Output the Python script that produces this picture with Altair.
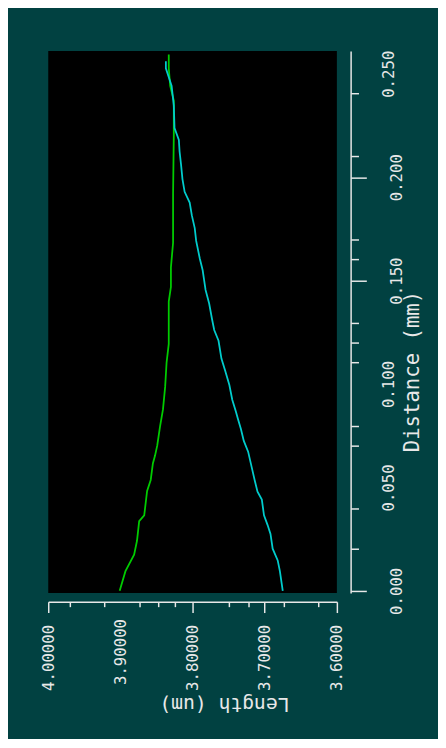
import altair as alt
import pandas as pd

# ---- data (Distance in mm, Length in um) ----
green_distance = [0.0, 0.0095, 0.0175, 0.0242, 0.0337, 0.0365, 0.0483, 0.0536, 0.0616, 0.0654,
                  0.0702, 0.0796, 0.0877, 0.0986, 0.1104, 0.1194, 0.1398, 0.1469, 0.1564, 0.1683,
                  0.1920, 0.2204, 0.2370, 0.2441, 0.2526, 0.2593]
green_length = [3.901, 3.893, 3.881, 3.877, 3.874, 3.867, 3.863, 3.858, 3.855, 3.852,
                3.849, 3.845, 3.841, 3.838, 3.836, 3.833, 3.833, 3.830, 3.830, 3.827,
                3.827, 3.826, 3.826, 3.831, 3.833, 3.833]

cyan_distance = [0.0, 0.0095, 0.0147, 0.0204, 0.0275, 0.0318, 0.0365, 0.0441, 0.0479, 0.0536,
                 0.0597, 0.0673, 0.0725, 0.0782, 0.0830, 0.0867, 0.0924, 0.0995, 0.1067, 0.1123,
                 0.1209, 0.1261, 0.1313, 0.1389, 0.1455, 0.1550, 0.1607, 0.1692, 0.1754, 0.1815,
                 0.1877, 0.1929, 0.1991, 0.2062, 0.2124, 0.2180, 0.2237, 0.2346, 0.2441, 0.2526,
                 0.2560]
cyan_length = [3.675, 3.679, 3.682, 3.689, 3.692, 3.696, 3.701, 3.704, 3.710, 3.714,
               3.718, 3.723, 3.729, 3.733, 3.737, 3.740, 3.745, 3.749, 3.755, 3.760,
               3.764, 3.770, 3.773, 3.777, 3.782, 3.786, 3.790, 3.795, 3.797, 3.801,
               3.804, 3.811, 3.814, 3.816, 3.818, 3.819, 3.825, 3.826, 3.829, 3.837,
               3.837]

series_names = ["Profile A", "Profile B"]
series_colors = ["#00cc00", "#00cccc"]

length_tick_values = [4.0, 3.970, 3.923, 3.874, 3.848, 3.825, 3.8, 3.749, 3.723, 3.7,
                      3.674, 3.626, 3.6]
length_label_values = [4.0, 3.9, 3.8, 3.7, 3.6]
length_long_ticks = [4.0, 3.8, 3.7, 3.6]

distance_tick_values = [0.0, 0.0204, 0.0398, 0.0702, 0.0796, 0.1104, 0.12, 0.1294, 0.15,
                        0.1602, 0.1697, 0.2, 0.21, 0.2408]
distance_label_values = [0.0, 0.05, 0.1, 0.15, 0.2, 0.25]
distance_long_ticks = [0.0, 0.15, 0.2]

# ---- table ----
rows = []
for d, l in zip(green_distance, green_length):
    rows.append({"series": series_names[0], "distance": d, "length": l})
for d, l in zip(cyan_distance, cyan_length):
    rows.append({"series": series_names[1], "distance": d, "length": l})
df = pd.DataFrame(rows)


def js_list(vals):
    return "[" + ",".join(repr(float(v)) for v in vals) + "]"


def in_list(vals):
    return "indexof(" + js_list(vals) + ", datum.value) >= 0"


FONT = "DejaVu Sans Mono"
FG = "#e8e8e8"

len_values = sorted(set(length_tick_values) | set(length_label_values), reverse=True)
dist_values = sorted(set(distance_tick_values) | set(distance_label_values))

length_axis = alt.Axis(
    orient="bottom",
    values=len_values,
    labelExpr=f"{in_list(length_label_values)} ? format(datum.value, '.5f') : ''",
    labelAngle=270,
    labelAlign="right",
    labelBaseline="middle",
    labelFont=FONT,
    labelFontSize=16,
    labelColor=FG,
    labelPadding=12,
    labelOverlap=False,
    labelFlush=False,
    tickColor=FG,
    tickWidth=1.5,
    tickSize={"condition": {"test": in_list(length_long_ticks), "value": 11}, "value": 5},
    tickOpacity={"condition": {"test": in_list(length_tick_values), "value": 1}, "value": 0},
    domainColor=FG,
    domainWidth=1.5,
    offset=9,
    grid=False,
    title="Length (um)",
    titleFont=FONT,
    titleFontSize=20,
    titleFontWeight="normal",
    titleColor=FG,
    titleAngle=180,
    titleAlign="center",
    titleBaseline="middle",
    titleX=179,
    titleY=104,
)

distance_axis = alt.Axis(
    orient="right",
    values=dist_values,
    labelExpr=f"{in_list(distance_label_values)} ? format(datum.value, '.3f') : ''",
    labelAngle=270,
    labelAlign="center",
    labelBaseline="top",
    labelFont=FONT,
    labelFontSize=16,
    labelColor=FG,
    labelPadding=23,
    labelOverlap=False,
    labelFlush=False,
    tickColor=FG,
    tickWidth=1.5,
    tickSize={"condition": {"test": in_list(distance_long_ticks), "value": 16}, "value": 8},
    tickOpacity={"condition": {"test": in_list(distance_tick_values), "value": 1}, "value": 0},
    domainColor=FG,
    domainWidth=1.5,
    offset=14,
    grid=False,
    title="Distance (mm)",
    titleFont=FONT,
    titleFontSize=21,
    titleFontWeight="normal",
    titleColor=FG,
    titleAngle=270,
    titleAlign="center",
    titleBaseline="middle",
    titleX=63,
    titleY=326,
)

chart = (
    alt.Chart(df)
    .mark_line(strokeWidth=1.8, interpolate="linear")
    .encode(
        x=alt.X("length:Q", scale=alt.Scale(domain=[3.6, 4.0], reverse=True, nice=False, zero=False),
                axis=length_axis),
        y=alt.Y("distance:Q", scale=alt.Scale(domain=[-0.001, 0.261], nice=False, zero=False),
                axis=distance_axis),
        color=alt.Color("series:N", scale=alt.Scale(domain=series_names, range=series_colors),
                        legend=None),
        order=alt.Order("distance:Q"),
        detail="series:N",
    )
    .properties(
        width=294,
        height=552,
        autosize=alt.AutoSizeParams(type="none"),
        padding={"left": 41, "top": 37, "right": 103, "bottom": 142},
        background="#014141",
    )
    .configure_view(fill="#000000", stroke=None)
)

chart.save("out.html", embed_options={"renderer": "svg", "actions": False})
